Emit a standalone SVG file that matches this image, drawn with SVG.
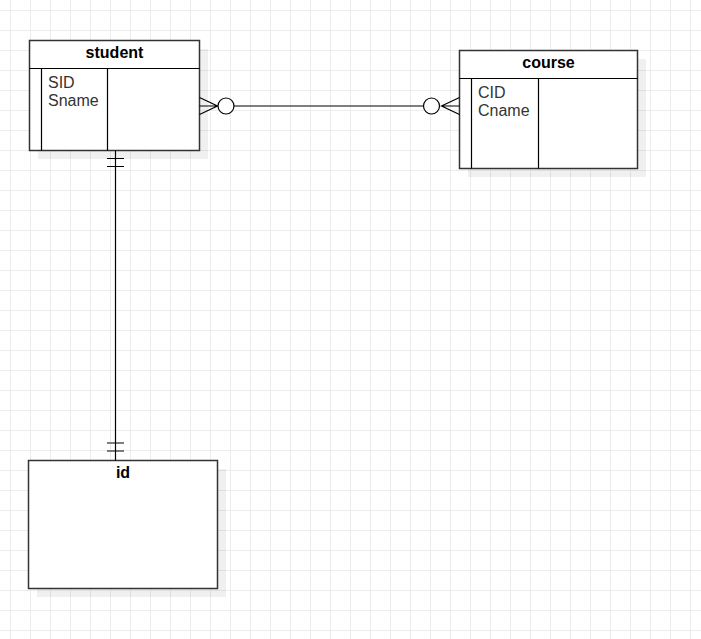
<svg xmlns="http://www.w3.org/2000/svg" width="701" height="639" viewBox="0 0 701 639">
<defs>
<pattern id="grid" x="10" y="10" width="20" height="20" patternUnits="userSpaceOnUse">
<path d="M0 0.5H20M0.5 0V20" fill="none" stroke="#ececec" stroke-width="1"/>
</pattern>
<style>
.box{fill:#fff;stroke:#333;stroke-width:1.5}
.shadow{fill:#000;fill-opacity:0.06;stroke:none}
.ln{fill:none;stroke:#000;stroke-width:1.2}
.title{font-family:"Liberation Sans",Arial,sans-serif;font-size:16px;font-weight:bold;fill:#000;text-anchor:middle}
.attr{font-family:"Liberation Sans",Arial,sans-serif;font-size:16px;fill:#333}
.conn{fill:none;stroke:#000;stroke-width:1.2}
.circ{fill:#fff;stroke:#000;stroke-width:1.2}
</style>
</defs>
<rect width="701" height="639" fill="#fff"/>
<rect width="701" height="639" fill="url(#grid)"/>

<g id="student">
<rect class="shadow" x="38" y="49" width="170" height="110"/>
<rect class="box" x="29.5" y="40.5" width="170" height="110"/>
<path class="ln" d="M29.5 68.5H199.5M41.5 68.5V150.5M107.5 68.5V150.5"/>
<text class="title" x="114.5" y="57.5">student</text>
<text class="attr" x="48" y="88">SID</text>
<text class="attr" x="48" y="106">Sname</text>
</g>

<g id="course">
<rect class="shadow" x="468" y="59" width="178" height="118"/>
<rect class="box" x="459.5" y="50.5" width="178" height="118"/>
<path class="ln" d="M459.5 78.5H637.5M471.5 78.5V168.5M538.5 78.5V168.5"/>
<text class="title" x="548.5" y="67.5">course</text>
<text class="attr" x="478" y="97.5">CID</text>
<text class="attr" x="478" y="116">Cname</text>
</g>

<g id="id">
<rect class="shadow" x="37" y="469" width="189" height="128"/>
<rect class="box" x="28.5" y="460.5" width="189" height="128"/>
<text class="title" x="123" y="477.5">id</text>
</g>

<g id="connectors">
<path class="conn" d="M234 106H423.5"/>
<path class="conn" d="M199.5 97.5L217.5 106L199.5 114.5M199.5 106H218"/>
<circle class="circ" cx="226" cy="106" r="8"/>
<path class="conn" d="M459.5 97.5L441.5 106L459.5 114.5M459.5 106H441"/>
<circle class="circ" cx="431.5" cy="106" r="8"/>
<path class="conn" d="M115.5 150.5V460.5"/>
<path class="conn" d="M107 158.5H124M107 166.5H124M107 443H124M107 451H124"/>
</g>
</svg>
